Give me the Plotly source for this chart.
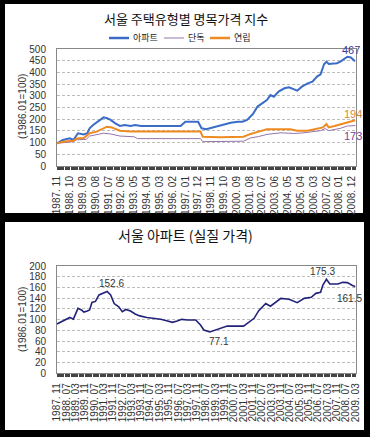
import plotly.graph_objects as go

# ---------------- data: top chart (nominal index) ----------------
apt_dates = ["1987-11","1988-04","1988-10","1989-01","1989-05","1989-10","1990-01","1990-03",
             "1990-06","1990-10","1991-03","1991-06","1991-09","1992-01","1992-05","1992-09",
             "1993-02","1993-06","1993-11","1996-09","1997-01","1997-12","1998-03","1998-07",
             "1999-01","1999-07","2000-04","2000-10","2001-02","2001-06","2001-11","2002-03",
             "2002-07","2002-11","2003-02","2003-05","2003-09","2004-02","2004-06","2004-10",
             "2005-01","2005-05","2005-10","2006-02","2006-06","2006-09","2006-12","2007-02",
             "2007-04","2007-11","2008-02","2008-08","2008-11","2009-02","2009-03"]
apt_vals = [97,111,118,111,140,135,140,161,
            175,189,208,204,197,182,171,175,
            171,175,171,171,189,189,161,157,
            165,175,185,189,189,197,222,254,
            268,282,303,296,318,332,336,328,
            322,339,353,360,382,392,435,446,
            436,439,446,467,464,450,450]

det_dates = ["1987-11","1989-01","1989-04","1989-12","1990-03","1990-09","1991-03","1991-09",
             "1992-01","1992-05","1993-05","1993-08","1998-02","1998-04","2001-03","2001-09",
             "2002-04","2002-11","2003-11","2004-10","2005-05","2006-01","2006-09","2007-01",
             "2007-04","2008-02","2008-08","2009-03"]
det_vals = [97,104,112,114,128,135,140,137,
            132,128,125,117,117,104,106,120,
            126,135,142,139,141,147,151,160,
            151,161,171,173]

row_dates = ["1987-11","1988-04","1989-01","1989-04","1989-10","1990-03","1990-09","1991-03",
             "1991-06","1991-10","1992-05","1993-02","1998-02","1998-04","1999-07","2001-03",
             "2001-09","2002-04","2002-11","2004-07","2005-01","2005-10","2006-03","2006-11",
             "2007-02","2007-04","2007-09","2008-03","2008-08","2009-02","2009-03"]
row_vals = [97,104,108,118,120,140,147,161,
            168,165,151,147,147,125,123,125,
            137,147,157,157,151,151,157,165,
            179,165,171,179,189,194,194]

top_ticklabels = ["1987. 11","1988. 10","1989. 09","1990. 08","1991. 07","1992. 06","1993. 05",
                  "1994. 04","1995. 03","1996. 02","1997. 01","1997. 12","1998. 11","1999. 10",
                  "2000. 09","2001. 08","2002. 07","2003. 06","2004. 05","2005. 04","2006. 03",
                  "2007. 02","2008. 01","2008. 12"]

# ---------------- data: bottom chart (real apartment price) ----------------
real_dates = ["1987-11","1988-03","1988-09","1988-10","1989-01","1989-05","1989-08","1989-10",
              "1990-01","1990-03","1990-05","1990-08","1990-11","1991-03","1991-06","1991-09",
              "1991-12","1992-04","1992-07","1992-10","1993-02","1993-06","1993-10","1994-04",
              "1994-10","1995-04","1995-09","1996-02","1996-06","1996-10","1997-03","1997-10",
              "1998-02","1998-05","1998-10","1999-01","1999-07","2000-01","2001-03","2001-08",
              "2001-12","2002-04","2002-10","2003-02","2003-07","2003-11","2004-06","2004-10",
              "2005-01","2005-07","2006-01","2006-05","2006-09","2006-11","2007-02","2007-05",
              "2007-12","2008-04","2008-08","2008-12","2009-03"]
real_vals = [92,96,102.5,104,101,121,118,114,
             116,118,132,134,146,149,152.6,146,
             130,124,115,119,116,110.5,107,104,
             102.4,100.6,98,95,97.4,100.6,99.4,99.4,
             90,80.7,77.1,79.4,83.8,88,88,96,
             102.5,116.7,130,125,133.5,139.7,138,133.5,
             131.6,139.7,141.6,149,151,164.5,175.3,166.4,
             166.4,169.5,169,164,161.5]

bottom_ticklabels = ["1987. 11","1988. 07","1989. 03","1989. 11","1990. 07","1991. 03","1991. 11",
                     "1992. 07","1993. 03","1993. 11","1994. 07","1995. 03","1995. 11","1996. 07",
                     "1997. 03","1997. 11","1998. 07","1999. 03","1999. 11","2000. 07","2001. 03",
                     "2001. 11","2002. 07","2003. 03","2003. 11","2004. 07","2005. 03","2005. 11",
                     "2006. 07","2007. 03","2007. 11","2008. 07","2009. 03"]

series_names = ["아파트", "단독", "연립"]
top_title = "서울 주택유형별 명목가격 지수"
bottom_title = "서울 아파트 (실질 가격)"
ytitle = "(1986.01=100)"

# ---------------- styles ----------------
W, H = 370, 437
C_APT, C_DET, C_ROW, C_REAL = "#3a6cc8", "#9474ac", "#ee8a22", "#22227a"
SERIES_COLORS = [C_APT, C_DET, C_ROW]
SERIES_WIDTHS = [2, 1, 2]
FONT = "Liberation Sans, Noto Sans CJK KR, sans-serif"
KFONT = "Noto Sans CJK KR, sans-serif"

def d(s):
    return s + "-01"

def tickval(lbl):
    return lbl.replace(". ", "-") + "-01"

def px(pix):
    return pix / W

def py(pix):
    return 1 - pix / H

fig = go.Figure()
top_series = [(apt_dates, apt_vals), (det_dates, det_vals), (row_dates, row_vals)]
for (ds, vs), nm, c, w in zip(top_series, series_names, SERIES_COLORS, SERIES_WIDTHS):
    fig.add_trace(go.Scatter(x=[d(s) for s in ds], y=vs, name=nm, showlegend=False,
                             mode="lines", line=dict(color=c, width=w), xaxis="x", yaxis="y"))
fig.add_trace(go.Scatter(x=[d(s) for s in real_dates], y=real_vals, showlegend=False,
                         mode="lines", line=dict(color=C_REAL, width=1.6), xaxis="x2", yaxis="y2"))

xdom = [px(57), px(355.5)]
common_x = dict(type="date", range=["1987-11-01", "2009-03-01"], tickmode="array",
                tickangle=-90, ticks="outside", ticklen=3, tickcolor="#444",
                showline=True, mirror=True, linecolor="#888", linewidth=1, automargin=False,
                showgrid=False, zeroline=False, tickfont=dict(family=FONT, size=10, color="#333"),
                minor=dict(dtick="M1", tick0="1987-11-01", ticks="outside", ticklen=3,
                           tickcolor="#444", showgrid=False),
                ticklabelstandoff=2)
common_y = dict(showline=True, mirror=True, linecolor="#888", linewidth=1, automargin=False,
                showgrid=True, gridcolor="#bdbdbd", griddash="3px,2px", gridwidth=1,
                zeroline=False, ticks="", tickfont=dict(family=FONT, size=10, color="#333"),
                ticklabelstandoff=8)

shapes = [
    dict(type="rect", xref="paper", yref="paper", x0=px(5), x1=px(363), y0=py(213), y1=py(4),
         fillcolor="white", line=dict(width=0), layer="below"),
    dict(type="rect", xref="paper", yref="paper", x0=px(5), x1=px(364), y0=py(430), y1=py(222),
         fillcolor="white", line=dict(width=0), layer="below"),
]

ann = []
# manual legend (line sample + label)
leg_x = [109, 164, 210]
for x0, nm, c, w in zip(leg_x, series_names, SERIES_COLORS, SERIES_WIDTHS):
    shapes.append(dict(type="line", xref="paper", yref="paper", x0=px(x0), x1=px(x0 + 20),
                       y0=py(38), y1=py(38), line=dict(color=c, width=w + 0.5 if w > 1 else 1)))
    ann.append(dict(text=nm, x=px(x0 + 22), y=py(38), xref="paper", yref="paper", showarrow=False,
                    xanchor="left", yanchor="middle",
                    font=dict(family=KFONT, size=9, color="#222")))

fig.update_layout(
    width=W, height=H, autosize=False,
    margin=dict(l=0, r=0, t=0, b=0, pad=0),
    paper_bgcolor="black", plot_bgcolor="white",
    font=dict(family=FONT, color="#222"),
    showlegend=False,
    xaxis=dict(domain=xdom, anchor="y",
               tickvals=[tickval(l) for l in top_ticklabels], ticktext=top_ticklabels, **common_x),
    yaxis=dict(domain=[py(166), py(49)], anchor="x", range=[0, 500], dtick=50, **common_y),
    xaxis2=dict(domain=xdom, anchor="y2",
                tickvals=[tickval(l) for l in bottom_ticklabels], ticktext=bottom_ticklabels, **common_x),
    yaxis2=dict(domain=[py(373.3), py(266)], anchor="x2", range=[0, 200], dtick=20, **common_y),
    shapes=shapes,
)

ann.append(dict(text=top_title, x=px(186), y=py(19), xref="paper", yref="paper", showarrow=False,
                xanchor="center", yanchor="middle",
                font=dict(family=KFONT, size=13, color="#111")))
ann.append(dict(text=bottom_title, x=px(185), y=py(235), xref="paper", yref="paper", showarrow=False,
                xanchor="center", yanchor="middle",
                font=dict(family=KFONT, size=14, color="#111")))
for yc in (py(107), py(320)):
    ann.append(dict(text=ytitle, x=px(22), y=yc, xref="paper", yref="paper", showarrow=False,
                    xanchor="center", yanchor="middle",
                    textangle=-90, font=dict(family=FONT, size=10, color="#333")))

# value labels (anchored on data points)
i_apt_peak = apt_vals.index(max(apt_vals))
ann.append(dict(text=str(apt_vals[i_apt_peak]), x=d(apt_dates[i_apt_peak]), y=apt_vals[i_apt_peak],
                xref="x", yref="y", showarrow=False, xanchor="center", yanchor="bottom",
                xshift=4, yshift=-1, font=dict(family=FONT, size=11, color="#3a3a9a")))
ann.append(dict(text=str(row_vals[-1]), x=d(row_dates[-1]), y=row_vals[-1], xref="x", yref="y",
                showarrow=False, xanchor="center", yanchor="bottom", xshift=-3, yshift=-1,
                font=dict(family=FONT, size=11, color="#d98a30")))
ann.append(dict(text=str(det_vals[-1]), x=d(det_dates[-1]), y=det_vals[-1], xref="x", yref="y",
                showarrow=False, xanchor="center", yanchor="top", xshift=-3, yshift=-2,
                font=dict(family=FONT, size=11, color="#7a3f9e")))

i_p1 = real_vals.index(152.6)
i_min = real_vals.index(min(real_vals))
i_p2 = real_vals.index(max(real_vals))
for i, ya, xs, ys in ((i_p1, "bottom", 4, 0), (i_min, "top", 9, -2),
                      (i_p2, "bottom", -4, 0), (len(real_vals) - 1, "top", -6, -4)):
    ann.append(dict(text=f"{real_vals[i]:.1f}", x=d(real_dates[i]), y=real_vals[i], xref="x2",
                    yref="y2", showarrow=False, xanchor="center", yanchor=ya, xshift=xs, yshift=ys,
                    font=dict(family=FONT, size=10, color="#333")))
fig.update_layout(annotations=ann)

fig.write_html("out.html", config={"displayModeBar": False},
               post_script="document.body.style.margin='0px';document.body.style.overflow='hidden';")
